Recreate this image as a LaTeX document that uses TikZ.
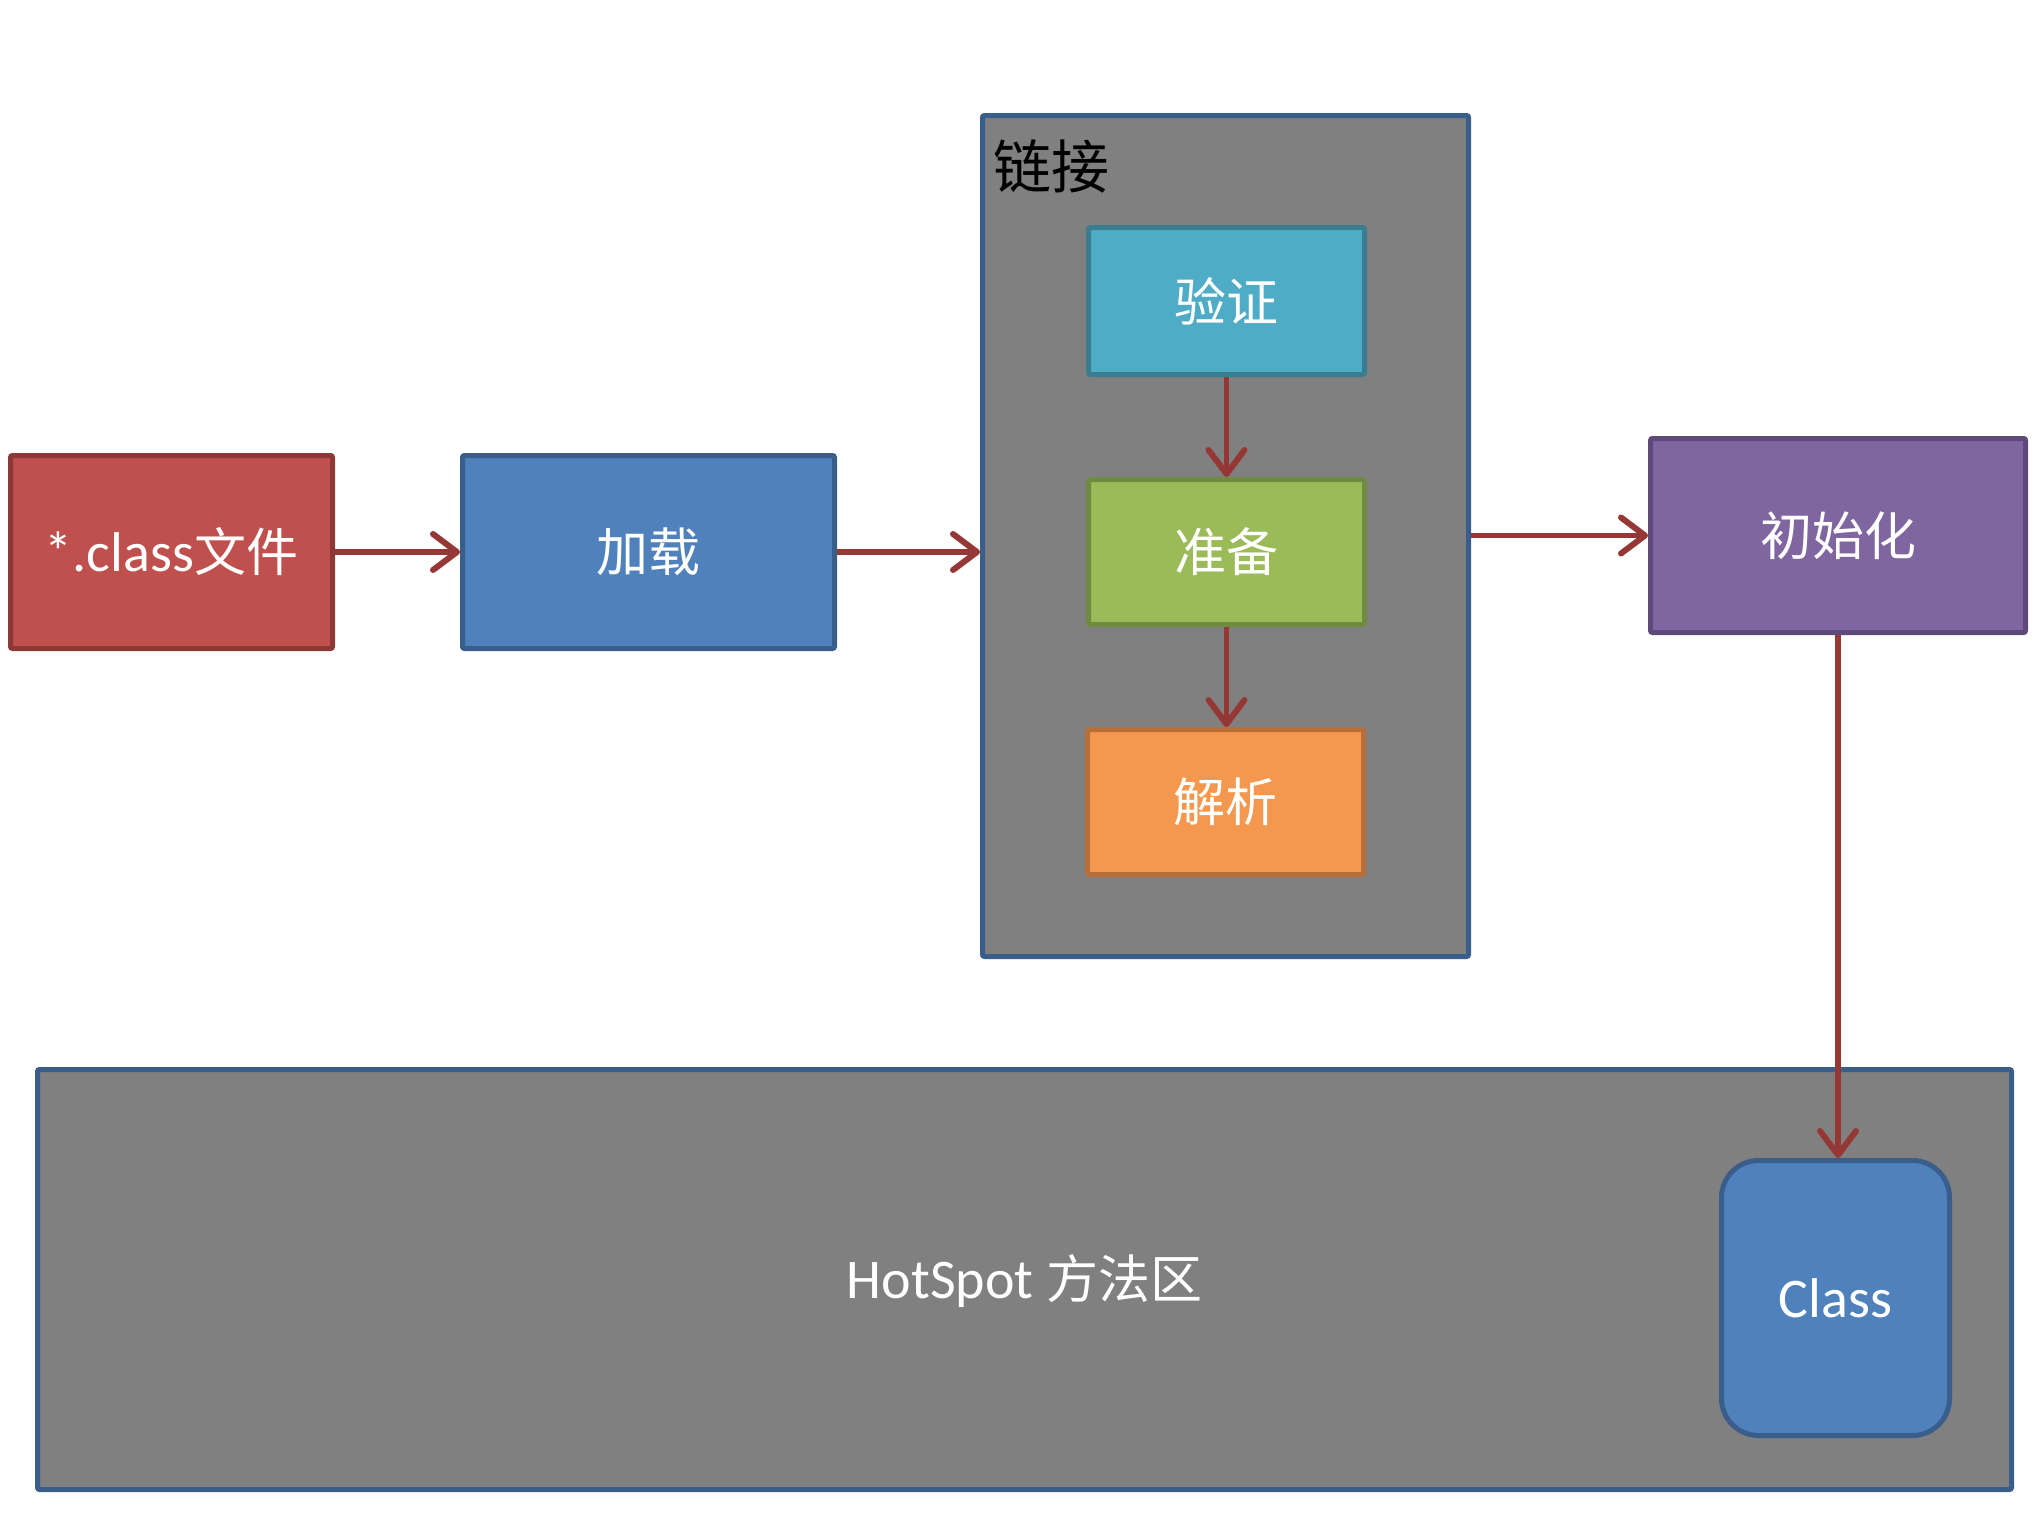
\documentclass[tikz,border=0pt]{standalone}
\usepackage{fontspec}
\setmainfont{Carlito}
\newfontfamily\cjk{Noto Sans CJK SC}
\usetikzlibrary{arrows.meta}
\definecolor{redF}{HTML}{C0504D}
\definecolor{redB}{HTML}{8C3836}
\definecolor{blueF}{HTML}{4F81BD}
\definecolor{blueB}{HTML}{3A5E8B}
\definecolor{grayF}{HTML}{808080}
\definecolor{cyanF}{HTML}{4FACC6}
\definecolor{cyanB}{HTML}{3A7D91}
\definecolor{greenF}{HTML}{9BBB59}
\definecolor{greenB}{HTML}{718A42}
\definecolor{orangeF}{HTML}{F49850}
\definecolor{orangeB}{HTML}{B86E38}
\definecolor{purpleF}{HTML}{8066A0}
\definecolor{purpleB}{HTML}{5E4A7A}
\definecolor{arrowC}{HTML}{953735}
\tikzset{
  box/.style={draw, line width=5pt, rounded corners=2pt, text=white, inner sep=0pt,
    font=\fontsize{56}{60}\selectfont},
  conn/.style={draw=arrowC, line width=5.5pt,
    -{Straight Barb[length=24pt, width=36pt, line width=6pt, line cap=round, round]}},
  cjkt/.style={font=\cjk\fontsize{52}{56}\selectfont}
}
\begin{document}
\begin{tikzpicture}[x=1pt, y=-1pt]
\useasboundingbox (0,0) rectangle (2044,1528);
% containers
\node[box, fill=grayF, draw=blueB, minimum width=1974pt, minimum height=420pt] (hot) at (1024.5,1279.5) {};
\node[text=white, font=\fontsize{56}{60}\selectfont] (hotlbl) at (1024.5,1281) {HotSpot {\cjk\fontsize{52}{56}\selectfont 方法区}};
\node[box, fill=grayF, draw=blueB, minimum width=486pt, minimum height=841pt] (link) at (1225.5,536) {};
\node[font=\cjk\fontsize{58}{62}\selectfont, text=black, inner sep=0pt] (linklbl) at (1051,166) {链接};
% boxes
\node[box, fill=redF, draw=redB, minimum width=322pt, minimum height=193pt] (cls) at (171.5,552) {*.class{\cjk\fontsize{52}{56}\selectfont 文件}};
\node[box, cjkt, fill=blueF, draw=blueB, minimum width=372pt, minimum height=193pt] (load) at (648.5,552) {加载};
\node[box, cjkt, fill=cyanF, draw=cyanB, minimum width=276pt, minimum height=147pt] (verify) at (1226.5,301) {验证};
\node[box, cjkt, fill=greenF, draw=greenB, minimum width=276pt, minimum height=145pt] (prep) at (1226.5,552) {准备};
\node[box, cjkt, fill=orangeF, draw=orangeB, minimum width=276pt, minimum height=145pt] (parse) at (1225.5,802) {解析};
\node[box, cjkt, fill=purpleF, draw=purpleB, minimum width=375pt, minimum height=194pt] (init) at (1838,535.5) {初始化};
\node[box, fill=blueF, draw=blueB, rounded corners=37pt, minimum width=228pt, minimum height=275pt] (class) at (1835.5,1298) {Class};
% connectors
\draw[conn] (cls.east) -- (load.west);
\draw[conn] (load.east) -- (load.east -| link.west);
\draw[conn] (verify.south) -- (verify.south |- prep.north);
\draw[conn] (prep.south) -- (prep.south |- parse.north);
\draw[conn] (link.east |- init.west) -- (init.west);
\draw[conn] (init.south) -- (init.south |- class.north);
\end{tikzpicture}
\end{document}
